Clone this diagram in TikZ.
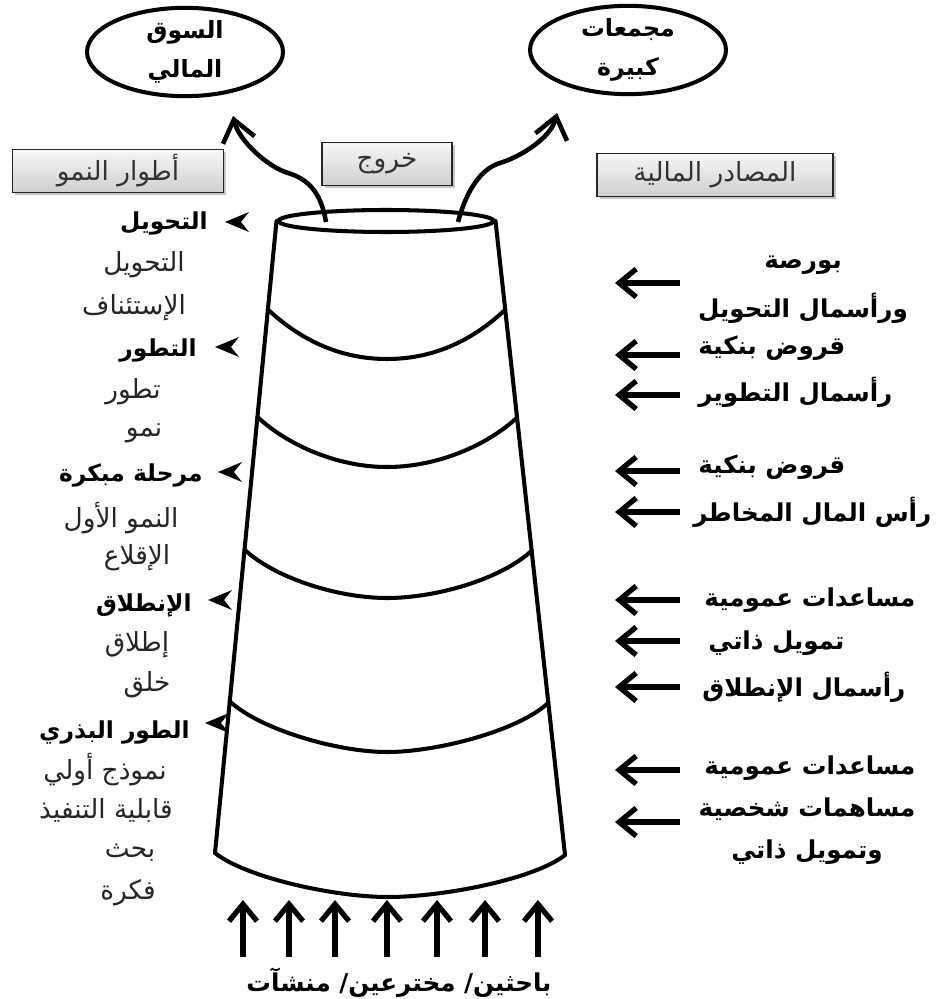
\documentclass[tikz,border=0pt]{standalone}
\usepackage{fontspec}
\usepackage{tikz}
\usetikzlibrary{arrows.meta, positioning, shapes.geometric, shadows, calc}
\TeXXeTstate=1
\newfontfamily\arabicfont[Script=Arabic]{DejaVu Sans}
\newcommand{\artxt}[1]{\beginR #1\endR}

\begin{document}
\begin{tikzpicture}[
    x=0.02cm, y=-0.02cm,
    heavy/.style={line width=2.3pt, line cap=round},
    target/.style={draw, ellipse, line width=2.3pt, minimum width=3.92cm, minimum height=1.74cm,
        align=center, inner sep=0pt, font=\arabicfont\bfseries\fontsize{13.5}{22}\selectfont},
    tagbox/.style={draw=black!85, line width=1pt, top color=gray!6, bottom color=gray!38,
        drop shadow={shadow xshift=1.5pt, shadow yshift=-1.5pt, fill=black!45},
        minimum height=0.86cm, inner sep=0pt, text=black!80,
        font=\arabicfont\fontsize{15}{17}\selectfont},
    phase/.style={anchor=east, inner sep=0pt, font=\arabicfont\bfseries\fontsize{13.3}{15}\selectfont},
    substep/.style={inner sep=0pt, text=black!85, font=\arabicfont\fontsize{15}{17}\selectfont},
    source/.style={anchor=west, inner sep=0pt, align=center,
        font=\arabicfont\bfseries\fontsize{14}{26}\selectfont},
    bigarrow/.style={line width=3pt, -{Straight Barb[length=3.4mm, width=5.6mm]}},
    exitarrow/.style={line width=2.6pt, -{Straight Barb[length=4.2mm, width=6.5mm]}}
]
    \useasboundingbox (0,0) rectangle (935,999);

    % Exit targets
    \node[target] (market) at (185,52) {\artxt{السوق}\\\artxt{المالي}};
    \node[target] (groups) at (628,50) {\artxt{مجمعات}\\\artxt{كبيرة}};

    % Header boxes
    \node[tagbox, minimum width=4.22cm] (phases) at (118,171) {\artxt{أطوار النمو}};
    \node[tagbox, minimum width=2.6cm] (exit) at (387,164) {\artxt{خروج}};
    \node[tagbox, minimum width=4.72cm] (funds) at (715,175) {\artxt{المصادر المالية}};

    % Funnel rim and sides
    \node[draw, ellipse, line width=2.3pt, minimum width=4.3cm, minimum height=0.44cm, inner sep=0pt] (rim) at (386,221) {};
    \coordinate (botL) at (215,853);
    \coordinate (botR) at (565,855);
    \draw[heavy] (rim.west) -- (botL);
    \draw[heavy] (rim.east) -- (botR);

    % Bands between stages
    \foreach \t/\yb [count=\i] in {0.14/359, 0.31/467, 0.52/598, 0.76/752} {
        \coordinate (bandL\i) at ($(rim.west)!\t!(botL)$);
        \coordinate (bandR\i) at ($(rim.east)!\t!(botR)$);
        \coordinate (bandB\i) at (387,\yb);
        \draw[heavy] (bandL\i) .. controls +(30,28) and +(-50,0) .. (bandB\i)
                     .. controls +(50,0) and +(-30,28) .. (bandR\i);
    }
    \coordinate (bandB5) at (388,897);
    \draw[heavy] (botL) .. controls +(30,24) and +(-55,0) .. (bandB5)
                 .. controls +(55,0) and +(-30,24) .. (botR);

    % Exit arrows
    \coordinate (exitL) at (326,222);
    \coordinate (midL) at (288,173);
    \coordinate (tipL) at (233,116);
    \coordinate (exitR) at (458,222);
    \coordinate (midR) at (500,163);
    \coordinate (tipR) at (557,113);
    \draw[exitarrow] (exitL) .. controls +(-5,-30) and +(20,6) .. (midL)
                     .. controls +(-20,-6) and +(6,25) .. (tipL);
    \draw[exitarrow] (exitR) .. controls +(8,-30) and +(-20,6) .. (midR)
                     .. controls +(20,-6) and +(-6,25) .. (tipR);

    % Growth stages
    \node[phase] (st1) at (208,223) {\artxt{التحويل}};
    \node[phase] (st2) at (197,350) {\artxt{التطور}};
    \node[phase] (st3) at (203,475) {\artxt{مرحلة مبكرة}};
    \node[phase] (st4) at (192,605) {\artxt{الإنطلاق}};
    \node[phase] (st5) at (190,732) {\artxt{الطور البذري}};
    \foreach \bx/\by in {237/222, 227/347, 230/472, 220/600, 217/723}
        \fill (\bx-12,\by) -- (\bx+12,\by-10) -- (\bx+4,\by) -- (\bx+12,\by+10) -- cycle;

    \node[substep] (sub1) at (144,265) {\artxt{التحويل}};
    \node[substep] (sub2) at (134,308) {\artxt{الإستئناف}};
    \node[substep] (sub3) at (133,392) {\artxt{تطور}};
    \node[substep] (sub4) at (144,433) {\artxt{نمو}};
    \node[substep] (sub5) at (121,518) {\artxt{النمو الأول}};
    \node[substep] (sub6) at (137,558) {\artxt{الإقلاع}};
    \node[substep] (sub7) at (137,645) {\artxt{إطلاق}};
    \node[substep] (sub8) at (147,685) {\artxt{خلق}};
    \node[substep] (sub9) at (105,770) {\artxt{نموذج أولي}};
    \node[substep] (sub10) at (106,810) {\artxt{قابلية التنفيذ}};
    \node[substep] (sub11) at (130,853) {\artxt{بحث}};
    \node[substep] (sub12) at (128,893) {\artxt{فكرة}};

    % Financial sources
    \node[source, anchor=center] (src1) at (803,290) {\artxt{بورصة}\\[2pt]\artxt{ورأسمال التحويل}};
    \node[source] (src2) at (698,348) {\artxt{قروض بنكية}};
    \node[source] (src3) at (698,392) {\artxt{رأسمال التطوير}};
    \node[source] (src4) at (698,467) {\artxt{قروض بنكية}};
    \node[source] (src5) at (693,512) {\artxt{رأس المال المخاطر}};
    \node[source] (src6) at (704,600) {\artxt{مساعدات عمومية}};
    \node[source] (src7) at (708,643) {\artxt{تمويل ذاتي}};
    \node[source] (src8) at (702,687) {\artxt{رأسمال الإنطلاق}};
    \node[source] (src9) at (704,768) {\artxt{مساعدات عمومية}};
    \node[source, anchor=center] (src10) at (807,831) {\artxt{مساهمات شخصية}\\[-2pt]\artxt{وتمويل ذاتي}};

    \foreach \y [count=\i] in {283,355,395,471,512,600,641,687,770,822} {
        \coordinate (fund\i) at (680,\y);
        \coordinate (intake\i) at (615,\y);
        \draw[bigarrow] (fund\i) -- (intake\i);
    }

    % Entrants at the bottom
    \foreach \x [count=\i] in {243,289,335,387,437,485,538} {
        \coordinate (feed\i) at (\x,957);
        \coordinate (entry\i) at (\x,900);
        \draw[bigarrow] (feed\i) -- (entry\i);
    }
    \node[source, anchor=center] (founders) at (399,983) {\artxt{باحثين/ مخترعين/ منشآت}};
\end{tikzpicture}
\end{document}
